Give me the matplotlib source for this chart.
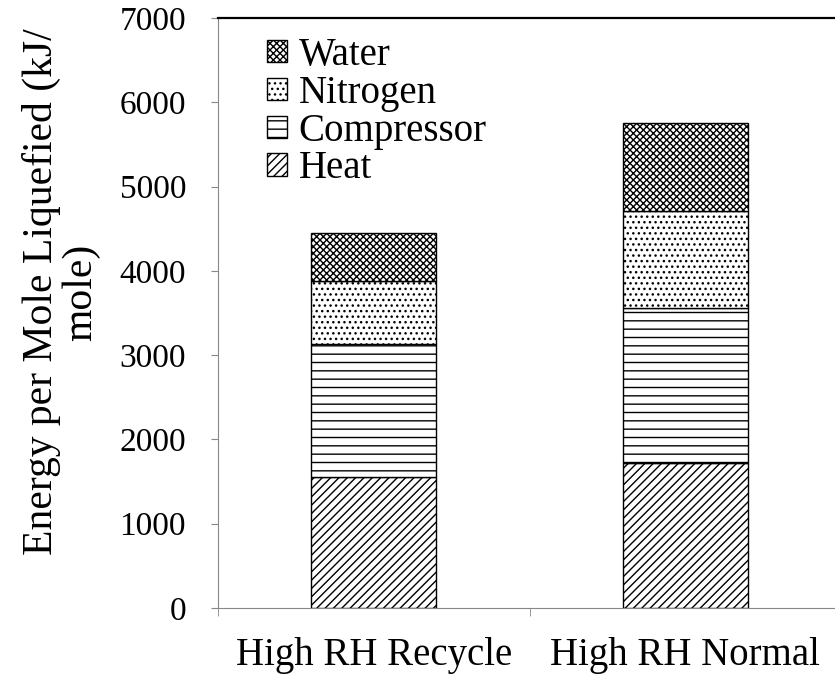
import numpy as np
import matplotlib
matplotlib.use('Agg')
import matplotlib.pyplot as plt

# values (kJ/mole)
categories = ['High RH Recycle', 'High RH Normal']
heat = [1555, 1720]
compressor = [1575, 1835]
nitrogen = [755, 1155]
water = [560, 1040]

series_names = ['Heat', 'Compressor', 'Nitrogen', 'Water']
series_values = [heat, compressor, nitrogen, water]
hatches = ['////', '--', '...', 'xxxxx']

plt.rcParams['font.family'] = ['Liberation Serif', 'DejaVu Serif']
plt.rcParams['hatch.linewidth'] = 1.0

fig = plt.figure(figsize=(8.35, 6.81), dpi=100)
ax = fig.add_axes([218 / 835, 73 / 681, 623 / 835, 590 / 681])

x = np.arange(len(categories))
bottom = np.zeros(len(categories))
handles = []
for name, vals, h in zip(series_names, series_values, hatches):
    b = ax.bar(x, vals, 0.4, bottom=bottom, color='white', edgecolor='black',
               hatch=h, linewidth=1.0, label=name)
    handles.append(b)
    bottom += np.array(vals)

ax.set_xlim(-0.5, 1.5)
ax.set_ylim(0, 7000)
ax.set_yticks(np.arange(0, 7001, 1000))
ax.set_xticks(x)
ax.set_xticklabels(categories, fontsize=28)
ax.set_xticks([-0.5, 0.5], minor=True)
ax.tick_params(axis='x', which='major', length=0, pad=21)
ax.tick_params(axis='x', which='minor', length=6, color='#888888')
ax.tick_params(axis='y', labelsize=24, length=5, color='#888888', pad=18)

for s in ['left', 'bottom']:
    ax.spines[s].set_color('#888888')
ax.spines['top'].set_color('black')
ax.spines['top'].set_linewidth(1.6)
ax.spines['right'].set_visible(False)

ax.set_ylabel('Energy per Mole Liquefied (kJ/\nmole)', fontsize=30,
              linespacing=1.0)
ax.yaxis.set_label_coords((100 - 218) / 623, (608 - 292) / 590)

leg = ax.legend(handles[::-1], series_names[::-1], loc='upper left',
                bbox_to_anchor=(49 / 623, 1 - 19 / 590), frameon=False,
                fontsize=28, handlelength=0.51, handleheight=0.51,
                handletextpad=0.3, labelspacing=0.02, borderpad=0,
                borderaxespad=0)

fig.savefig('out.png', dpi=100)
